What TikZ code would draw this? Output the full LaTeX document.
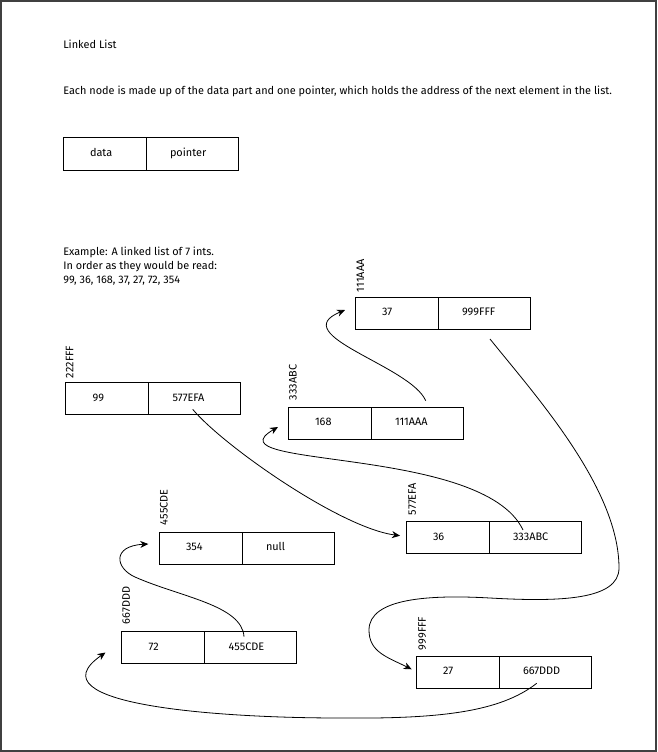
\documentclass[tikz,border=0pt]{standalone}
\usepackage{fontspec}
\setmainfont{Fira Sans}
\usetikzlibrary{calc,arrows.meta}
\tikzset{
  txt/.style={font=\fontsize{10.9pt}{13pt}\selectfont, inner sep=0pt, outer sep=0pt},
  cellbox/.style={txt, draw, line width=0.9pt, anchor=north west, minimum height=32pt, text height=7.5pt, text depth=2pt},
  addrlab/.style={txt, rotate=90, anchor=south west},
  ptr/.style={line width=0.8pt, -{Stealth[length=8pt,width=7pt,inset=2.5pt]}},
}
\newcommand{\lcell}[1]{\makebox[83pt][l]{\hspace*{27pt}#1}}
\newcommand{\rcell}[1]{\makebox[92pt][l]{\hspace*{24pt}#1}}
\begin{document}
\begin{tikzpicture}[x=1pt,y=-1pt]
\useasboundingbox (0,0) rectangle (657,752);
\draw[line width=1.6pt, black!75] (1,1) rectangle (655.8,750.8);

% texts
\node[txt, anchor=base west] (title) at (63.3,48.7) {Linked List};
\node[txt, anchor=base west] (desc) at (63.3,94.5) {Each node is made up of the data part and one pointer, which holds the address of the next element in the list.};
\node[txt, anchor=base west] (ex1) at (63.3,255) {Example: A linked list of 7 ints.};
\node[txt, anchor=base west] (ex2) at (63.3,269.3) {In order as they would be read:};
\node[txt, anchor=base west] (ex3) at (63.3,283.5) {99, 36, 168, 37, 27, 72, 354};

% legend box
\node[cellbox, minimum height=33pt] (bdata) at (63,137.5) {\lcell{data}};
\node[cellbox, minimum height=33pt] (bdatap) at (bdata.north east) {\rcell{pointer}};

% list nodes
\node[cellbox] (b99) at (65.7,382.7) {\lcell{99}};
\node[cellbox] (b99p) at (b99.north east) {\rcell{577EFA}};
\node[addrlab] (l99) at ($(b99.north west)+(7.6,-4.7)$) {222FFF};

\node[cellbox] (b168) at (288,407) {\lcell{168}};
\node[cellbox] (b168p) at (b168.north east) {\rcell{111AAA}};
\node[addrlab] (l168) at ($(b168.north west)+(8.7,-7)$) {333ABC};

\node[cellbox] (b37) at (355,297) {\lcell{37}};
\node[cellbox] (b37p) at (b37.north east) {\rcell{999FFF}};
\node[addrlab] (l37) at ($(b37.north west)+(9,-5)$) {111AAA};

\node[cellbox] (b36) at (406,521.7) {\lcell{36}};
\node[cellbox] (b36p) at (b36.north east) {\rcell{333ABC}};
\node[addrlab] (l36) at ($(b36.north west)+(10,-6.7)$) {577EFA};

\node[cellbox] (b27) at (416,656) {\lcell{27}};
\node[cellbox] (b27p) at (b27.north east) {\rcell{667DDD}};
\node[addrlab] (l27) at ($(b27.north west)+(10,-6)$) {999FFF};

\node[cellbox] (b354) at (159,532) {\lcell{354}};
\node[cellbox] (b354p) at (b354.north east) {\rcell{null}};
\node[addrlab] (l354) at ($(b354.north west)+(8.7,-7)$) {455CDE};

\node[cellbox] (b72) at (121.7,631.7) {\lcell{72}};
\node[cellbox] (b72p) at (b72.north east) {\rcell{455CDE}};
\node[addrlab] (l72) at ($(b72.north west)+(8.3,-7.7)$) {667DDD};

% connector end points
\coordinate (s1) at ($(b99.north west)+(127,26.6)$);
\coordinate (e1) at ($(b36.north west)+(-6,14)$);
\coordinate (s2) at ($(b36.north west)+(117,8.3)$);
\coordinate (e2) at ($(b168.north west)+(-10,20)$);
\coordinate (s3) at ($(b168.north west)+(137.7,-6.3)$);
\coordinate (e3) at ($(b37.north west)+(-10,13)$);
\coordinate (s4) at ($(b37.north west)+(135,42)$);
\coordinate (e4) at ($(b27.north west)+(-4.3,13.3)$);
\coordinate (s5) at ($(b27.north west)+(120.7,27.3)$);
\coordinate (e5) at ($(b72.north west)+(-16.2,20.8)$);
\coordinate (s6) at ($(b72.north west)+(122.3,5)$);
\coordinate (e6) at ($(b354.north west)+(-10.7,12)$);

% connectors
\draw[ptr] (s1) .. controls +(30,36) and +(-60,-8) .. (e1);
\draw[ptr] (s2) .. controls +(-40,-85) and +(-72,42) .. (e2);
\draw[ptr] (s3) .. controls +(-15,-35) and +(-60,25) .. (e3);
\draw[ptr] (s4) .. controls (535,395) and (619,488) .. (619,568)
  .. controls (619,600) and (560,602) .. (490,598)
  .. controls (430,594.6) and (369,598) .. (369,630)
  .. controls (369,652) and (387,657) .. (e4);
\draw[ptr] (s5) .. controls (500,712) and (440,719) .. (340,718)
  .. controls (220,718) and (30,705) .. (e5);
\draw[ptr] (s6) .. controls (242,605) and (180,597) .. (135,577)
  .. controls (115,568) and (112,546) .. (e6);
\end{tikzpicture}
\end{document}
